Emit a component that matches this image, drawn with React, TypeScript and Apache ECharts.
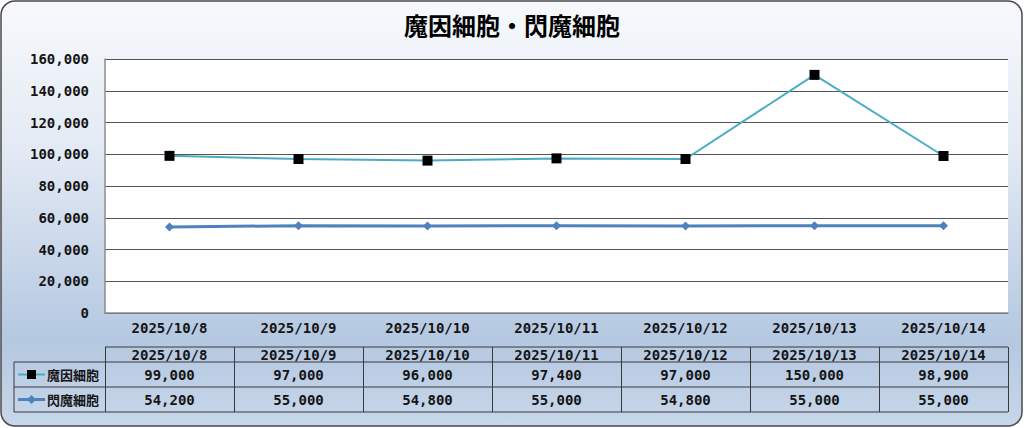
import React, { useEffect, useRef } from "react";
import * as echarts from "echarts";

const titleText = "魔因細胞・閃魔細胞";
const categories = ["2025/10/8", "2025/10/9", "2025/10/10", "2025/10/11", "2025/10/12", "2025/10/13", "2025/10/14"];
const seriesNames = ["魔因細胞", "閃魔細胞"];
const maiValues = [99000, 97000, 96000, 97400, 97000, 150000, 98900];
const senValues = [54200, 55000, 54800, 55000, 54800, 55000, 55000];
const yMin = 0;
const yMax = 160000;
const yStep = 20000;

const FONT = '"Noto Sans CJK JP", "Noto Sans", sans-serif';
const NUMFONT = '"DejaVu Sans Mono", "Noto Sans CJK JP", monospace';
const TEXT = "#151515";
const C1 = "#4bacc6";
const C2 = "#4f81bd";

const W = 1024;
const H = 428;
const PL = 105;
const PR = 1008;
const PT = 59;
const PB = 313;

function fmt(v: number) {
  return v.toLocaleString("en-US");
}

function buildTable(): any[] {
  const els: any[] = [];
  const n = categories.length;
  const colW = (PR - PL) / n;
  const hTop = 347, r1 = 362, r2 = 387, bot = 412, legL = 14;
  const ls = { stroke: "#3a3a3a", lineWidth: 1 };
  els.push({ type: "line", shape: { x1: PL, y1: hTop, x2: PR, y2: hTop }, style: ls });
  [r1, r2, bot].forEach((y) => els.push({ type: "line", shape: { x1: legL, y1: y, x2: PR, y2: y }, style: ls }));
  els.push({ type: "line", shape: { x1: legL, y1: r1, x2: legL, y2: bot }, style: ls });
  for (let i = 0; i <= n; i++) {
    const x = Math.round(PL + i * colW) + 0.5;
    els.push({ type: "line", shape: { x1: x, y1: hTop, x2: x, y2: bot }, style: ls });
  }
  const rows = [maiValues, senValues];
  categories.forEach((c, i) => {
    const cx = PL + (i + 0.5) * colW;
    els.push({ type: "text", x: cx, y: (hTop + r1) / 2, style: { text: c, fill: TEXT, font: `bold 14px ${NUMFONT}`, align: "center", verticalAlign: "middle" } });
    rows.forEach((row, j) => {
      const yy = j === 0 ? (r1 + r2) / 2 : (r2 + bot) / 2;
      els.push({ type: "text", x: cx, y: yy, style: { text: fmt(row[i]), fill: TEXT, font: `bold 14px ${NUMFONT}`, align: "center", verticalAlign: "middle" } });
    });
  });
  // legend keys
  const y1 = (r1 + r2) / 2, y2 = (r2 + bot) / 2;
  els.push({ type: "line", shape: { x1: 18, y1: y1, x2: 45, y2: y1 }, style: { stroke: C1, lineWidth: 2 } });
  els.push({ type: "rect", shape: { x: 27, y: y1 - 4.5, width: 9, height: 9 }, style: { fill: "#000" } });
  els.push({ type: "line", shape: { x1: 18, y1: y2, x2: 45, y2: y2 }, style: { stroke: C2, lineWidth: 3 } });
  els.push({ type: "polygon", shape: { points: [[31.5, y2 - 4.5], [36, y2], [31.5, y2 + 4.5], [27, y2]] }, style: { fill: C2 } });
  els.push({ type: "text", x: 47, y: y1, style: { text: seriesNames[0], fill: TEXT, font: `bold 13px ${FONT}`, align: "left", verticalAlign: "middle" } });
  els.push({ type: "text", x: 47, y: y2, style: { text: seriesNames[1], fill: TEXT, font: `bold 13px ${FONT}`, align: "left", verticalAlign: "middle" } });
  return els;
}

export default function App() {
  const ref = useRef<HTMLDivElement>(null);
  useEffect(() => {
    document.body.style.margin = "0";
    const chart = echarts.init(ref.current!, undefined, { renderer: "svg" });
    chart.setOption({
      animation: false,
      title: {
        text: titleText,
        left: "center",
        top: 7,
        textStyle: { fontFamily: FONT, fontSize: 24, fontWeight: "bold", color: "#000" },
      },
      graphic: [
        {
          type: "rect",
          z: -10,
          silent: true,
          shape: { x: 1, y: 1, width: W - 3, height: H - 3, r: 14 },
          style: {
            fill: new echarts.graphic.LinearGradient(0, 0, 0, 1, [
              { offset: 0, color: "#f7f9fc" },
              { offset: 0.35, color: "#e3eaf4" },
              { offset: 0.8, color: "#b4c8e1" },
              { offset: 1, color: "#c8d7ea" },
            ]),
            stroke: "#4a4a4a",
            lineWidth: 1.5,
          },
        },
        {
          type: "rect",
          z: -5,
          silent: true,
          shape: { x: PL, y: PT, width: PR - PL, height: PB - PT },
          style: { fill: "#ffffff" },
        },
        ...buildTable(),
      ],
      grid: { left: PL, right: W - PR, top: PT, bottom: H - PB, containLabel: false },
      xAxis: {
        type: "category",
        data: categories,
        boundaryGap: true,
        axisLine: { show: true, lineStyle: { color: "#8c8c8c", width: 1.5 } },
        axisTick: { show: false },
        axisLabel: { color: TEXT, fontFamily: NUMFONT, fontSize: 14, fontWeight: "bold", margin: 8 },
      },
      yAxis: {
        type: "value",
        min: yMin,
        max: yMax,
        interval: yStep,
        axisLine: { show: true, lineStyle: { color: "#8c8c8c", width: 1.5 } },
        axisTick: { show: false },
        splitLine: { show: true, lineStyle: { color: "#555555", width: 1 } },
        axisLabel: {
          color: TEXT,
          fontFamily: NUMFONT,
          fontSize: 14,
          fontWeight: "bold",
          margin: 16,
          formatter: (v: number) => fmt(v),
        },
      },
      series: [
        {
          name: seriesNames[0],
          type: "line",
          data: maiValues,
          symbol: "rect",
          symbolSize: 10,
          itemStyle: { color: "#000000" },
          lineStyle: { color: C1, width: 2 },
          z: 3,
        },
        {
          name: seriesNames[1],
          type: "line",
          data: senValues,
          symbol: "diamond",
          symbolSize: 9,
          itemStyle: { color: C2 },
          lineStyle: { color: C2, width: 3 },
          z: 2,
        },
      ],
    });
    return () => chart.dispose();
  }, []);
  return <div ref={ref} style={{ width: W, height: H, position: "absolute", left: 0, top: 0 }} />;
}
